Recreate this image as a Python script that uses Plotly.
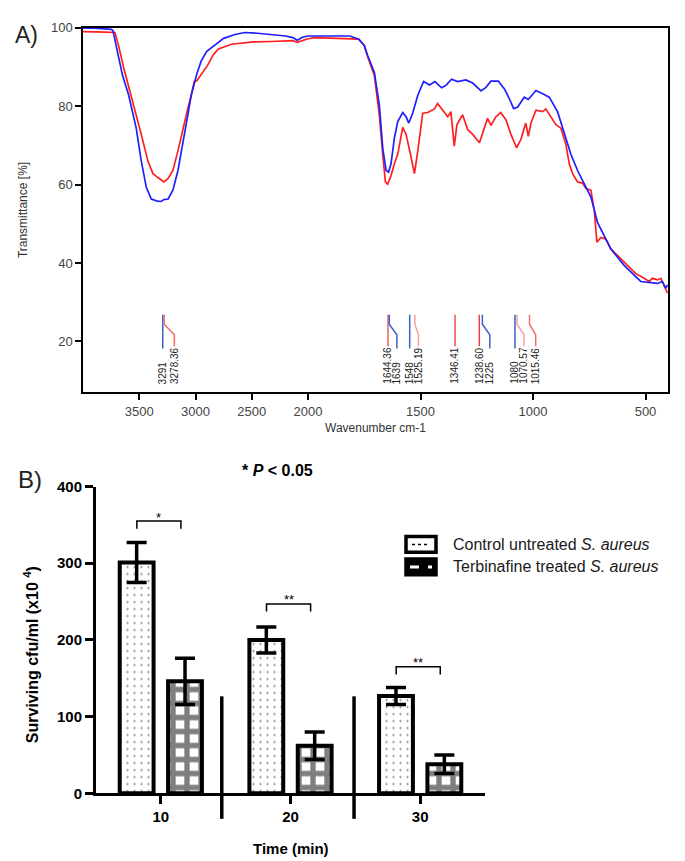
import plotly.graph_objects as go

W, H = 685, 861

# ---------------- Panel A: FTIR spectra ----------------
blue_wn = [4000, 3900, 3800, 3750, 3734, 3700, 3650, 3594, 3527, 3482, 3438, 3393, 3340, 3305, 3281,
           3245, 3201, 3156, 3112, 3068, 3038, 2988, 2950, 2900, 2837, 2750, 2650, 2561, 2450, 2330,
           2200, 2135, 2095, 2050, 2000, 1900, 1814, 1775, 1750, 1734, 1705, 1683, 1668, 1653, 1642,
           1631, 1616, 1601, 1579, 1564, 1552, 1535, 1512, 1486, 1460, 1436, 1406, 1387, 1362, 1335,
           1298, 1268, 1231, 1209, 1187, 1154, 1127, 1105, 1086, 1068, 1039, 1021, 987, 957, 928,
           891, 861, 832, 802, 772, 743, 713, 683, 654, 595, 521, 447, 425, 410, 402]
blue_t = [99.9, 99.9, 99.7, 99.6, 99.3, 95, 88, 82.8, 74.4, 66, 59.4, 56.3, 55.8, 55.7, 56.2,
          56.3, 58.6, 63.6, 70.3, 77.8, 82.8, 88.3, 91.5, 94, 95.4, 97.3, 98.3, 98.8, 98.6, 98.3,
          97.9, 97.5, 96.8, 97.6, 97.9, 97.9, 97.9, 97.1, 95.5, 92.8, 88.6, 80.3, 69.4, 63.6, 63.2,
          65.3, 71.9, 76.1, 78.4, 77.3, 75.7, 78.2, 82.8, 86.3, 85.4, 86.3, 84.7, 85.3, 86.9, 86.3,
          86.7, 85.9, 83.9, 84.8, 86.4, 86.4, 84.4, 81.9, 79.4, 79.8, 82.3, 81.7, 84, 83.2, 82.3,
          78.6, 72.8, 67.8, 63.6, 60.3, 56.9, 50.3, 46.9, 43.6, 39.4, 35.3, 34.8, 35.3, 33.6, 34.4]

red_wn = [4000, 3900, 3800, 3716, 3680, 3640, 3571, 3482, 3423, 3378, 3334, 3305, 3281, 3245,
          3201, 3156, 3112, 3068, 3038, 3011, 2988, 2952, 2893, 2840, 2797, 2679, 2561, 2485, 2330,
          2135, 2095, 2000, 1970, 1814, 1774, 1750, 1736, 1705, 1683, 1668, 1656, 1646, 1631, 1616,
          1601, 1579, 1564, 1545, 1527, 1512, 1490, 1468, 1438, 1424, 1401, 1379, 1365, 1350, 1338,
          1313, 1290, 1268, 1238, 1202, 1187, 1165, 1143, 1120, 1098, 1073, 1054, 1032, 1021, 1009,
          987, 957, 943, 913, 898, 876, 854, 839, 824, 802, 780, 765, 743, 728, 716,
          698, 676, 654, 595, 543, 506, 484, 469, 447, 432, 417, 402]
red_t = [99.0, 99.0, 98.9, 98.8, 95, 90, 82.8, 72.8, 66, 62.8, 61.8, 61.2, 60.7, 61.5,
         63.6, 68.6, 74.4, 79.4, 82.8, 86.3, 86.5, 87.9, 90.4, 93.2, 94.6, 95.8, 96.2, 96.4, 96.5,
         96.7, 96.3, 97.2, 97.5, 97.3, 97.1, 95.5, 92.8, 87.8, 77.8, 67.8, 60.7, 60.1, 62.3, 65.3,
         67.8, 74.6, 72.8, 67.8, 62.8, 68.6, 78.2, 78.4, 79.3, 80.7, 79, 77.3, 78.6, 69.8, 75.3,
         77.8, 74, 72.8, 70.7, 76.9, 75.1, 77.3, 78.4, 76.5, 72.8, 69.4, 71.5, 75.7, 72.3, 75.7,
         79, 78.6, 79.3, 76.5, 75.3, 74.4, 70.3, 65.3, 62.8, 60.7, 60.4, 59, 58.6, 53.6, 45.3,
         46.5, 46.1, 43.6, 40.3, 37.3, 36.1, 35.3, 36.1, 35.7, 36.1, 34, 32.3]

peak_wn = [3291, 3278.36, 1644.36, 1639, 1548, 1525.19, 1346.41, 1238.60, 1225, 1080, 1070.57, 1015.46]
peak_text = ['3291', '3278.36', '1644.36', '1639', '1548', '1525.19', '1346.41', '1238.60',
             '1225', '1080', '1070.57', '1015.46']
peak_label_wn = [3291, 3188, 1644.36, 1605, 1548, 1509, 1346.41, 1238.60, 1192, 1080, 1040, 988]
peak_color = ['#3a62c8', '#f06a6a', '#f06060', '#3a62c8', '#3a62c8', '#f7a0a0', '#f05050',
              '#f03c3c', '#3a62c8', '#3a62c8', '#f7a0a0', '#f07070']

x_ticks_wn = [3500, 3000, 2500, 2000, 1500, 1000, 500]

# ---------------- Panel B: survival bars ----------------
times = ['10', '20', '30']
control_mean = [301, 200, 127]
control_err = [26, 17, 11]
treated_mean = [146, 62, 38]
treated_err = [30, 18, 12]
sig_text = ['*', '**', '**']
sig_y = [355, 247, 165]


def wn_axis(w):
    # instrument axis: 4000-2000 drawn at half the scale of 2000-400
    return 4000 - w if w >= 2000 else 2000 + 2 * (2000 - w)


def px(x):
    return x / W


def py(y):
    return 1 - y / H


fig = go.Figure()

fig.add_trace(go.Scatter(x=[wn_axis(w) for w in red_wn], y=red_t, mode='lines',
                         line=dict(color='#ff1f1f', width=1.7), xaxis='x', yaxis='y',
                         showlegend=False))
fig.add_trace(go.Scatter(x=[wn_axis(w) for w in blue_wn], y=blue_t, mode='lines',
                         line=dict(color='#1f1fff', width=1.7), xaxis='x', yaxis='y',
                         showlegend=False))

TOP, BEND1, BEND2, LABEL_Y = 26.8, 24.4, 21.7, 8.6
for w, lw, txt, col in zip(peak_wn, peak_label_wn, peak_text, peak_color):
    bottom = 18.2 if col == '#3a62c8' else 18.8
    if lw == w:
        xs, ys = [w, w], [TOP, bottom]
    else:
        xs, ys = [w, w, lw, lw], [TOP, BEND1, BEND2, bottom]
    fig.add_trace(go.Scatter(x=[wn_axis(v) for v in xs], y=ys, mode='lines',
                             line=dict(color=col, width=1.5), xaxis='x', yaxis='y',
                             hoverinfo='skip', showlegend=False))
    fig.add_annotation(x=wn_axis(lw), y=LABEL_Y, xref='x', yref='y', text=txt, textangle=-90,
                       showarrow=False, xanchor='center', yanchor='bottom',
                       font=dict(size=10, color='#222222'))

fig.add_trace(go.Bar(x=[0, 1, 2], y=control_mean, xaxis='x2', yaxis='y2', showlegend=False,
                     error_y=dict(type='data', array=control_err, color='black', thickness=3.5, width=10),
                     marker=dict(color='white', line=dict(color='black', width=4),
                                 pattern=dict(shape='.', fgcolor='black', bgcolor='white',
                                              size=7, solidity=0.07))))
fig.add_trace(go.Bar(x=[0, 1, 2], y=treated_mean, xaxis='x2', yaxis='y2', showlegend=False,
                     error_y=dict(type='data', array=treated_err, color='black', thickness=3.5, width=10),
                     marker=dict(color='white', line=dict(color='black', width=4),
                                 pattern=dict(shape='+', fgcolor='black', bgcolor='white',
                                              size=14, solidity=0.62))))

shapes = []
for sx in [0.47, 1.49]:
    shapes.append(dict(type='line', xref='x2', yref='paper', x0=sx, x1=sx, y0=py(818), y1=py(693),
                       line=dict(color='black', width=3.5)))
for i, (txt, y) in enumerate(zip(sig_text, sig_y)):
    x0, x1 = i - 0.185, i + 0.155
    shapes.append(dict(type='path', xref='x2', yref='y2',
                       path=f'M {x0},{y - 10} L {x0},{y} L {x1},{y} L {x1},{y - 10}',
                       line=dict(color='black', width=1.5)))
    fig.add_annotation(x=(x0 + x1) / 2, y=y, xref='x2', yref='y2', text=txt, showarrow=False,
                       xanchor='center', yanchor='middle', yshift=4,
                       font=dict(size=13, color='black'))

# legend drawn by hand (rounded symbols as in the original)
shapes += [
    dict(type='rect', xref='paper', yref='paper', x0=px(398), x1=px(428), y0=py(546), y1=py(530),
         fillcolor='white', line=dict(color='black', width=3.5)),
    dict(type='line', xref='paper', yref='paper', x0=px(404), x1=px(422), y0=py(538), y1=py(538),
         line=dict(color='black', width=1.5, dash='dot')),
    dict(type='rect', xref='paper', yref='paper', x0=px(398), x1=px(428), y0=py(569), y1=py(553),
         fillcolor='black', line=dict(color='black', width=3.5)),
    dict(type='line', xref='paper', yref='paper', x0=px(402), x1=px(424), y0=py(561), y1=py(561),
         line=dict(color='white', width=3, dash='dash')),
]

legend_font = dict(family='Liberation Sans, Arial, sans-serif', size=16, color='#1a1a1a')
notes = [
    dict(x=px(443), y=py(538), text='Control untreated <i>S. aureus</i>', xanchor='left', font=legend_font),
    dict(x=px(443), y=py(561), text='Terbinafine treated <i>S. aureus</i>', xanchor='left', font=legend_font),
    dict(x=px(269), y=py(463), text='<b>* <i>P</i> &lt; 0.05</b>', font=dict(size=16, color='black')),
    dict(x=px(282.5), y=py(848), text='<b>Time (min)</b>', font=dict(size=15, color='black')),
    dict(x=px(23), y=py(651), text='<b>Surviving cfu/ml (x10 <sup>4</sup>)</b>', textangle=-90,
         font=dict(size=16, color='black')),
    dict(x=px(15), y=py(197), text='Transmittance [%]', textangle=-90, font=dict(size=12, color='#333')),
    dict(x=px(367), y=py(419), text='Wavenumber cm-1', font=dict(size=12, color='#333')),
    dict(x=px(5), y=py(18), text='A)', xanchor='left', font=dict(size=23, color='#222')),
    dict(x=px(8), y=py(472), text='B)', xanchor='left', font=dict(size=24, color='#222')),
]
for n in notes:
    n.setdefault('xanchor', 'center')
    fig.add_annotation(xref='paper', yref='paper', yanchor='middle', showarrow=False, **n)

fig.update_layout(
    width=W, height=H,
    margin=dict(l=0, r=0, t=0, b=0),
    paper_bgcolor='white', plot_bgcolor='white',
    font=dict(family='Liberation Sans, Arial, sans-serif'),
    barmode='group', bargap=0.254, bargroupgap=0.3,
    shapes=shapes,
    xaxis=dict(domain=[px(75), px(660)], range=[0, 5200], anchor='y',
               tickvals=[wn_axis(v) for v in x_ticks_wn], ticktext=[str(v) for v in x_ticks_wn],
               ticks='outside', ticklen=6, tickwidth=1.5, tickcolor='black',
               showline=True, linecolor='black', linewidth=1.5, mirror=True,
               showgrid=False, zeroline=False, tickfont=dict(size=13, color='#444')),
    yaxis=dict(domain=[py(383), py(11)], range=[7, 100], anchor='x',
               tickvals=[20, 40, 60, 80, 100],
               ticks='outside', ticklen=6, tickwidth=1.5, tickcolor='black',
               showline=True, linecolor='black', linewidth=1.5, mirror=True,
               showgrid=False, zeroline=False, tickfont=dict(size=13, color='#444')),
    xaxis2=dict(domain=[px(88), px(477)], range=[-0.5, 2.5], anchor='y2',
                tickvals=[0, 1, 2], ticktext=times,
                ticks='outside', ticklen=8, tickwidth=3, tickcolor='black',
                showline=True, linecolor='black', linewidth=3,
                showgrid=False, zeroline=False,
                tickfont=dict(size=15, color='black', weight='bold')),
    yaxis2=dict(domain=[py(792), py(479)], range=[0, 400], anchor='x2',
                tickvals=[0, 100, 200, 300, 400],
                ticks='outside', ticklen=8, tickwidth=3, tickcolor='black',
                showline=True, linecolor='black', linewidth=3,
                showgrid=False, zeroline=False,
                tickfont=dict(size=15, color='black', weight='bold')),
)

fig.write_html("out.html")
